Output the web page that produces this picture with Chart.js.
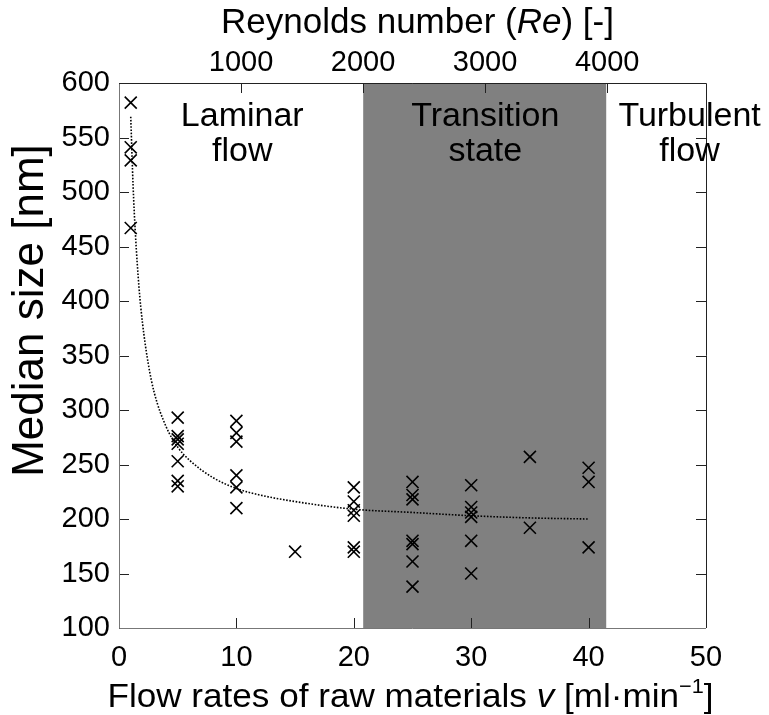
<!DOCTYPE html>
<html><head><meta charset="utf-8">
<script src="https://cdn.jsdelivr.net/npm/chart.js@4.4.1/dist/chart.umd.min.js"></script>
<style>html,body{margin:0;padding:0;background:#fff}#wrap{width:769px;height:715px;position:relative}</style>
</head><body><div id="wrap"><canvas id="c"></canvas></div>
<script>
// ---- data ----
const FLOW_RATE = [1,1,1,1, 5,5,5,5,5,5,5, 10,10,10,10,10,10, 15, 20,20,20,20,20,20, 25,25,25,25,25,25,25, 30,30,30,30,30,30, 35,35, 40,40,40];
const MEDIAN_SIZE = [582,541,529,467, 293,276,273,269,253,235,230, 290,279,271,240,229,210, 170, 229,216,208,203,174,170, 234,222,218,180,177,161,138, 231,211,206,202,180,150, 257,192, 247,234,174];
const FIT_FLOW = [1,1.2,1.4,1.7,2,2.5,3,4,5,6,8,10,12,15,20,25,30,35,40];
const FIT_SIZE = [569,506,461,413,380,342,316,285,266,254,238,228,222,216,209,206,203,201,200];
const X_TICKS = [0,10,20,30,40,50];
const Y_TICKS = [100,150,200,250,300,350,400,450,500,550,600];
const RE_TICKS = [1000,2000,3000,4000];
const RE_AXIS_MAX = 4810;
const TRANSITION_RANGE = [20.8, 41.5];
const REGION_NAMES = [['Laminar','flow'],['Transition','state'],['Turbulent','flow']];
const REGION_CENTERS = [10.5, 31.2, 48.6];
const X_TITLE_PARTS = [['Flow rates of raw materials ',''],['v','italic'],[' [ml·min',''],['−1','sup'],[']','']];
const RE_TITLE_PARTS = [['Reynolds number (',''],['Re','italic'],[') [-]','']];

const FONT = "'Liberation Sans', Arial, Helvetica, sans-serif";

const scatterData = FLOW_RATE.map((v,i)=>({x:v,y:MEDIAN_SIZE[i]}));
const fitData = FIT_FLOW.map((v,i)=>({x:v,y:FIT_SIZE[i]}));

function drawRich(ctx, parts, cx, baseY, size, targetWidth){
  const fontOf = (st)=> st==='italic' ? `italic ${size}px ${FONT}` : st==='sup' ? `${Math.round(size*0.62)}px ${FONT}` : `${size}px ${FONT}`;
  let total = 0;
  parts.forEach(([t,st])=>{ctx.font = fontOf(st); total += ctx.measureText(t).width;});
  const sx = targetWidth ? targetWidth/total : 1;
  ctx.save();
  ctx.translate(cx - total*sx/2, baseY);
  ctx.scale(sx, 1);
  ctx.textAlign = 'left';
  ctx.textBaseline = 'alphabetic';
  ctx.fillStyle = '#000';
  let xx = 0;
  parts.forEach(([t,st])=>{
    ctx.font = fontOf(st);
    ctx.fillText(t, xx, st==='sup' ? -size*0.4 : 0);
    xx += ctx.measureText(t).width;
  });
  ctx.restore();
}

function patchTitle(s, fn){
  if (!s || s._patched) return;
  s.drawTitle = fn;
  s._patched = true;
}

const framePlugin = {
  id:'frame',
  afterLayout(chart){
    const y = chart.scales.y;
    if (y && !y._patched) {
      const orig = y.drawTitle;
      patchTitle(y, function(){ const c=this.ctx; c.save(); c.translate(0,-45); orig.call(this); c.restore(); });
    }
    patchTitle(chart.scales.x, function(){
      const o = this.options.title;
      drawRich(this.ctx, X_TITLE_PARTS, (this.left+this.right)/2 - 2, this.bottom - 8, o.font.size, 606);
    });
    patchTitle(chart.scales.x2, function(){
      const o = this.options.title;
      drawRich(this.ctx, RE_TITLE_PARTS, (this.left+this.right)/2 + 5, this.top + 33, o.font.size, 0);
    });
  },
  beforeDatasetsDraw(chart){
    const {ctx, chartArea:a, scales:{x}} = chart;
    const x0 = x.getPixelForValue(TRANSITION_RANGE[0]);
    const x1 = x.getPixelForValue(TRANSITION_RANGE[1]);
    ctx.save();
    ctx.fillStyle = '#808080';
    ctx.fillRect(x0, a.top, x1-x0, a.bottom-a.top);
    ctx.restore();
  },
  afterDraw(chart){
    const {ctx, chartArea:a, scales:{x,y,x2}} = chart;
    const TL = 10;
    ctx.save();
    ctx.lineWidth = 1;
    ctx.strokeStyle = '#222';
    ctx.beginPath();
    X_TICKS.forEach(v=>{const p=Math.round(x.getPixelForValue(v))+0.5; ctx.moveTo(p,a.bottom); ctx.lineTo(p,a.bottom-TL);});
    RE_TICKS.forEach(v=>{const p=Math.round(x2.getPixelForValue(v))+0.5; ctx.moveTo(p,a.top); ctx.lineTo(p,a.top+TL);});
    Y_TICKS.forEach(v=>{const p=Math.round(y.getPixelForValue(v))+0.5; ctx.moveTo(a.left,p); ctx.lineTo(a.left+TL,p); ctx.moveTo(a.right,p); ctx.lineTo(a.right-TL,p);});
    ctx.stroke();
    ctx.strokeStyle = '#777';
    ctx.beginPath();
    ctx.moveTo(a.left+0.5, a.top); ctx.lineTo(a.left+0.5, a.bottom+0.5); ctx.lineTo(a.right, a.bottom+0.5);
    ctx.stroke();
    ctx.strokeStyle = '#222';
    ctx.beginPath();
    ctx.moveTo(a.left, a.top+0.5); ctx.lineTo(a.right+0.5, a.top+0.5); ctx.lineTo(a.right+0.5, a.bottom);
    ctx.stroke();
    ctx.fillStyle = '#000';
    ctx.font = '34px ' + FONT;
    ctx.textAlign = 'center';
    ctx.textBaseline = 'alphabetic';
    REGION_NAMES.forEach((lines,i)=>{
      const cx = x.getPixelForValue(REGION_CENTERS[i]);
      ctx.fillText(lines[0], cx, y.getPixelForValue(561));
      ctx.fillText(lines[1], cx, y.getPixelForValue(528));
    });
    ctx.restore();
  }
};

new Chart(document.getElementById('c'), {
  type:'scatter',
  data:{datasets:[
    {type:'line', data:fitData, borderColor:'#000', borderWidth:1.6, borderDash:[1.6,1.6], pointRadius:0, cubicInterpolationMode:'monotone', fill:false, order:2},
    {data:scatterData, pointStyle:'crossRot', pointRadius:8.5, pointHoverRadius:8.5, borderColor:'#000', backgroundColor:'#000', pointBorderWidth:1.6, borderWidth:1.6, order:1}
  ]},
  options:{
    responsive:true, maintainAspectRatio:false, animation:false,
    events:[],
    layout:{padding:{left:0,right:63,top:0,bottom:0}},
    plugins:{legend:{display:false}, tooltip:{enabled:false}},
    scales:{
      x:{type:'linear', position:'bottom', min:0, max:50,
        afterBuildTicks(s){s.ticks = X_TICKS.map(v=>({value:v}));},
        afterFit(s){s.height = 87;},
        grid:{display:false, drawTicks:false}, border:{display:false},
        ticks:{color:'#000', font:{family:FONT,size:29}, padding:13, maxRotation:0, autoSkip:false, callback:(v)=>String(v)},
        title:{display:true, text:'Flow rates of raw materials v [ml·min⁻¹]', color:'#000', font:{family:FONT,size:34}, padding:{top:0,bottom:0}}
      },
      x2:{type:'linear', position:'top', min:0, max:RE_AXIS_MAX,
        afterBuildTicks(s){s.ticks = RE_TICKS.map(v=>({value:v}));},
        afterFit(s){s.height = 83;},
        grid:{display:false, drawTicks:false}, border:{display:false},
        ticks:{color:'#000', font:{family:FONT,size:29}, padding:3, maxRotation:0, autoSkip:false, callback:(v)=>String(v)},
        title:{display:true, text:'Reynolds number (Re) [-]', color:'#000', font:{family:FONT,size:35}, padding:{top:1,bottom:0}}
      },
      y:{type:'linear', position:'left', min:100, max:600,
        afterBuildTicks(s){s.ticks = Y_TICKS.map(v=>({value:v}));},
        afterFit(s){s.width = 119;},
        grid:{display:false, drawTicks:false}, border:{display:false},
        ticks:{color:'#000', font:{family:FONT,size:29}, padding:9, autoSkip:false, callback:(v)=>String(v)},
        title:{display:true, text:'Median size [nm]', color:'#000', font:{family:FONT,size:44}, padding:{top:4,bottom:0}}
      }
    }
  },
  plugins:[framePlugin]
});
</script>
</body></html>
